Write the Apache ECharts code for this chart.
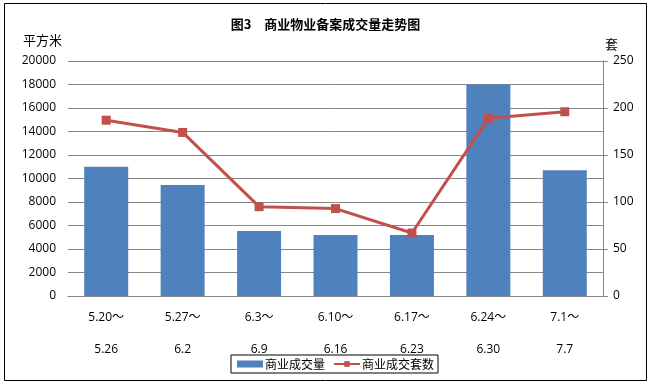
<!DOCTYPE html>
<html><head><meta charset="utf-8">
<script src="https://cdn.jsdelivr.net/npm/echarts@6/dist/echarts.min.js"></script>
<style>html,body{margin:0;padding:0;background:#fff}#c{width:651px;height:385px}</style>
</head><body><div id="c"></div>
<script>
const categories = ['5.20～\n\n5.26','5.27～\n\n6.2','6.3～\n\n6.9','6.10～\n\n6.16','6.17～\n\n6.23','6.24～\n\n6.30','7.1～\n\n7.7'];
const areaValues = [11000, 9450, 5530, 5200, 5200, 18000, 10700];
const unitValues = [187, 174, 95, 93, 67, 189, 196];
const leftTicks = [0, 20000, 2000];
const rightTicks = [0, 250, 50];

const font = '"Open Sans", "Noto Sans CJK SC", sans-serif';
const cjk = '"Noto Sans CJK SC", sans-serif';
const chart = echarts.init(document.getElementById('c'));
chart.setOption({
  animation: false,
  backgroundColor: '#fff',
  textStyle: {fontFamily: font},
  graphic: [{type:'rect', shape:{x:4.5,y:3.5,width:642,height:377}, style:{fill:'none', stroke:'#000', lineWidth:1}, z:-1}],
  title: {text: '图3　商业物业备案成交量走势图', left: 'center', top: 13,
    textStyle: {fontSize: 13, fontWeight: 'bold', color: '#000', fontFamily: cjk}},
  legend: {
    left: 231, top: 355,
    padding: [3, 4, 3, 6], itemGap: 8,
    borderColor: '#000', borderWidth: 1,
    itemWidth: 26, itemHeight: 7,
    textStyle: {fontSize: 12, color: '#000', fontFamily: cjk, padding: [0, 0, 0, -3]},
    data: [{name:'商业成交量', icon:'rect'}, {name:'商业成交套数'}]
  },
  grid: {left: 68, right: 48, top: 61, bottom: 89},
  xAxis: {
    type: 'category', data: categories,
    axisLine: {lineStyle: {color: '#868686'}},
    axisTick: {show: false},
    axisLabel: {color: '#000', fontSize: 12, lineHeight: 16, margin: 14, fontFamily: font}
  },
  yAxis: [{
    type: 'value', min: leftTicks[0], max: leftTicks[1], interval: leftTicks[2],
    name: '平方米', nameLocation: 'end', nameGap: 14,
    nameTextStyle: {color: '#000', fontSize: 13, align: 'right', padding: [0, 6, 0, 0], fontFamily: cjk},
    axisLine: {show: false}, axisTick: {show: false},
    splitLine: {lineStyle: {color: '#868686'}},
    axisLabel: {color: '#000', fontSize: 12, margin: 12, fontFamily: font, formatter: v => String(v)}
  }, {
    type: 'value', min: rightTicks[0], max: rightTicks[1], interval: rightTicks[2],
    name: '套', nameLocation: 'end', nameGap: 10,
    nameTextStyle: {color: '#000', fontSize: 13, align: 'left', padding: [0, 0, 0, 2], fontFamily: cjk},
    axisLine: {show: true, lineStyle: {color: '#868686'}},
    axisTick: {show: true, length: 5, lineStyle: {color: '#868686'}},
    splitLine: {show: false},
    axisLabel: {color: '#000', fontSize: 12, margin: 10, fontFamily: font, formatter: v => String(v)}
  }],
  series: [{
    name: '商业成交量', type: 'bar', data: areaValues, barWidth: 44,
    itemStyle: {color: '#4F81BD'}
  }, {
    name: '商业成交套数', type: 'line', yAxisIndex: 1, data: unitValues,
    symbol: 'rect', symbolSize: 9,
    lineStyle: {color: '#C0504D', width: 3},
    itemStyle: {color: '#C0504D'}
  }]
});
</script></body></html>
